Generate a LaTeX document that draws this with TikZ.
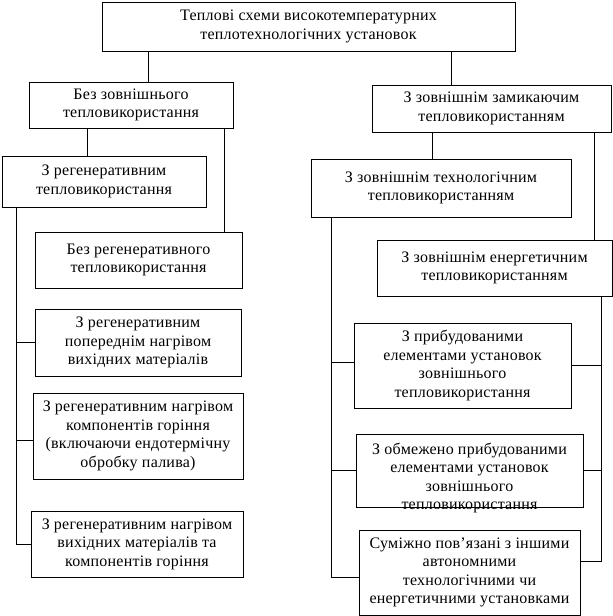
\documentclass[tikz,border=0pt]{standalone}
\usepackage{fontspec}
\setmainfont{Liberation Serif}[LetterSpace=1.5]

\begin{document}
\begin{tikzpicture}[x=1pt, y=-1pt, line width=0.8pt,
    every node/.style={font=\fontsize{16}{18.5}\selectfont, align=center},
    box/.style={draw, inner sep=2pt}]
  \useasboundingbox (0,0) rectangle (613,616);
  % root
  \node[box, minimum width=413pt, minimum height=49pt] (top) at (308.5,26.5)
    {Теплові схеми високотемпературних\\теплотехнологічних установок};
  % first level
  \node[box, minimum width=204pt, minimum height=46pt] (noext) at (131,105)
    {Без зовнішнього\\тепловикористання};
  \node[box, minimum width=239pt, minimum height=47pt] (ext) at (491.5,108.5)
    {З зовнішнім замикаючим\\тепловикористанням};
  % left branch
  \node[box, minimum width=204pt, minimum height=51pt] (regen) at (104,181.5)
    {З регенеративним\\тепловикористання};
  \node[box, minimum width=207pt, minimum height=56pt] (noregen) at (138.5,260)
    {Без регенеративного\\тепловикористання};
  \node[box, minimum width=206pt, minimum height=67pt] (preheat) at (138,342.5)
    {З регенеративним\\попереднім нагрівом\\вихідних матеріалів};
  \node[box, minimum width=210pt, minimum height=86pt] (combust) at (138,436)
    {З регенеративним нагрівом\\компонентів горіння\\(включаючи ендотермічну\\обробку палива)};
  \node[box, minimum width=212pt, minimum height=66pt] (both) at (137,544)
    {З регенеративним нагрівом\\вихідних матеріалів та\\компонентів горіння};
  % right branch
  \node[box, minimum width=260pt, minimum height=58pt] (techn) at (441,188)
    {З зовнішнім технологічним\\тепловикористанням};
  \node[box, minimum width=235pt, minimum height=56pt] (energ) at (494.5,268)
    {З зовнішнім енергетичним\\тепловикористанням};
  \node[box, minimum width=217pt, minimum height=85pt] (built) at (462.5,365.5)
    {З прибудованими\\елементами установок\\зовнішнього\\тепловикористання};
  \node[box, minimum width=227pt, minimum height=73pt] (limited) at (469.5,470.5) {};
  \node (limited text) at (469.5,478)
    {З обмежено прибудованими\\елементами установок\\зовнішнього\\тепловикористання};
  \node[box, minimum width=221pt, minimum height=85pt] (adjacent) at (469.5,572.5)
    {Суміжно пов’язані з іншими\\автономними\\технологічними чи\\енергетичними установками};
  % entry points of the spines
  \coordinate (combust in) at ([yshift=-4pt]combust.west);
  \coordinate (built in) at ([yshift=3pt]built.west);
  \coordinate (adjacent in) at ([yshift=-5pt]adjacent.west);
  \coordinate (adjacent out) at ([yshift=11pt]adjacent.east);
  % connectors from the root
  \draw (148,0 |- top.south) -- (148,0 |- noext.north);
  \draw (451,0 |- top.south) -- (451,0 |- ext.north);
  \draw (87,0 |- noext.south) -- (87,0 |- regen.north);
  \draw (224,0 |- noext.south) -- (224,0 |- noregen.north);
  \draw (432,0 |- ext.south) -- (432,0 |- techn.north);
  \draw (594,0 |- ext.south) -- (594,0 |- energ.north);
  % left spine
  \draw (16,0 |- regen.south) -- (16,0 |- both.west) -- (both.west);
  \draw (16,0 |- preheat.west) -- (preheat.west);
  \draw (16,0 |- combust in) -- (combust in);
  % right spines
  \draw (331,0 |- techn.south) -- (331,0 |- adjacent in) -- (adjacent in);
  \draw (331,0 |- built in) -- (built in);
  \draw (331,0 |- limited.west) -- (limited.west);
  \draw (601,0 |- energ.south) -- (601,0 |- adjacent out) -- (adjacent out);
  \draw (601,0 |- built.east) -- (built.east);
  \draw (601,0 |- limited.east) -- (limited.east);
\end{tikzpicture}
\end{document}
